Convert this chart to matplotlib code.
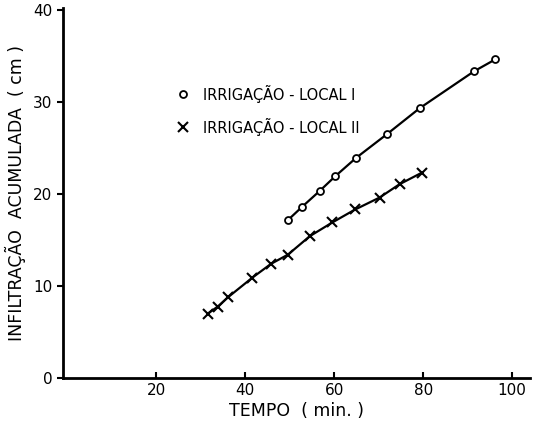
import matplotlib
matplotlib.use("Agg")
import matplotlib.pyplot as plt

# Data
t1 = [49.7, 52.8, 56.7, 60.2, 64.9, 71.9, 79.2, 91.4, 96.2]
i1 = [17.2, 18.6, 20.3, 21.9, 23.9, 26.5, 29.3, 33.3, 34.6]
t2 = [31.6, 33.8, 36.2, 41.6, 45.8, 49.6, 54.5, 59.6, 64.7, 70.2, 74.7, 79.7]
i2 = [7.0, 7.75, 8.8, 10.9, 12.4, 13.4, 15.4, 16.9, 18.3, 19.6, 21.05, 22.3]
xticks = [20, 40, 60, 80, 100]
yticks = [0, 10, 20, 30, 40]
label1 = "IRRIGAÇÃO - LOCAL I"
label2 = "IRRIGAÇÃO - LOCAL II"

fig = plt.figure(figsize=(5.37, 4.34), dpi=100)
ax = fig.add_axes([0.117, 0.129, 0.87, 0.853])

ax.plot(t1, i1, color="black", lw=1.6, marker="o", ms=5, mfc="white", mec="black", mew=1.3)
ax.plot(t2, i2, color="black", lw=1.6, marker="x", ms=7, mec="black", mew=1.5)

ax.set_xlim(-1, 104)
ax.set_ylim(0, 40.2)
ax.set_xticks(xticks)
ax.set_yticks(yticks)
for s in ["top", "right"]:
    ax.spines[s].set_visible(False)
for s in ["left", "bottom"]:
    ax.spines[s].set_linewidth(2)
ax.tick_params(axis="both", labelsize=11, width=1.5, length=4)
ax.tick_params(axis="x", direction="in")

ax.set_xlabel("TEMPO  ( min. )", fontsize=12.5, labelpad=3)
ax.set_ylabel("INFILTRAÇÃO  ACUMULADA  ( cm )", fontsize=12.5, labelpad=5)

# Legend drawn as marker + text
ax.plot([26.0], [30.8], marker="o", ms=5, mfc="white", mec="black", mew=1.3, ls="none")
ax.plot([26.0], [27.3], marker="x", ms=7, mec="black", mew=1.5, ls="none")
ax.text(30.5, 30.8, label1, fontsize=10.5, va="center")
ax.text(30.5, 27.3, label2, fontsize=10.5, va="center")

fig.savefig("out.png", dpi=100)
